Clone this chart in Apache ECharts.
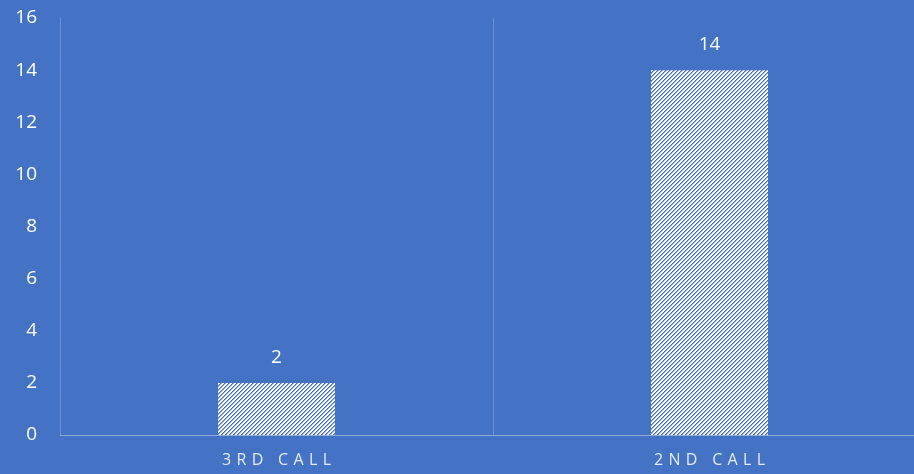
<!DOCTYPE html>
<html>
<head>
<meta charset="utf-8">
<script src="https://cdn.jsdelivr.net/npm/echarts@6/dist/echarts.min.js"></script>
<style>
  html, body { margin: 0; padding: 0; background: #4472C4; overflow: hidden; }
  /* plot area runs a little past the right edge of the window */
  #chart { width: 926px; height: 474px; }
</style>
</head>
<body>
<div id="chart"></div>
<script>
const categories = ['3RD CALL', '2ND CALL']
const values = [2, 14]
const yMax = 16
const yStep = 2

// hatch tile: white with blue "/" stripes
function hatch() {
  const c = document.createElement('canvas')
  c.width = 4
  c.height = 4
  const ctx = c.getContext('2d')
  ctx.fillStyle = '#ffffff'
  ctx.fillRect(0, 0, 4, 4)
  ctx.fillStyle = '#4472C4'
  for (let i = 0; i < 4; i++) {
    ctx.fillRect(3 - i, i, 1, 1)
  }
  ctx.fillStyle = 'rgba(68,114,196,0.6)'
  for (let i = 0; i < 4; i++) {
    ctx.fillRect((4 - i) % 4, i, 1, 1)
  }
  return c
}

const myChart = echarts.init(document.getElementById('chart'))

myChart.setOption({
  backgroundColor: '#4472C4',
  animation: false,
  grid: {
    left: 60,
    right: 0,
    top: 18,
    bottom: 39
  },
  xAxis: {
    type: 'category',
    data: categories,
    axisLine: { show: true, lineStyle: { color: '#8FAADC', width: 1 } },
    axisTick: { show: false },
    splitLine: { show: true, lineStyle: { color: '#6D90D2', width: 1 } },
    axisLabel: {
      color: '#E6ECF7',
      fontSize: 16,
      fontFamily: 'Open Sans',
      margin: 17,
      // letters in the source are spread out
      formatter: (v) => v.split('').join('\u2004')
    }
  },
  yAxis: {
    type: 'value',
    min: 0,
    max: yMax,
    interval: yStep,
    axisLine: { show: true, lineStyle: { color: '#6D90D2', width: 1 } },
    axisTick: { show: false },
    splitLine: { show: false },
    axisLabel: {
      color: '#ffffff',
      fontSize: 19,
      fontFamily: 'Open Sans',
      margin: 23
    }
  },
  series: [
    {
      type: 'bar',
      data: values,
      barWidth: 117,
      itemStyle: {
        color: { image: hatch(), repeat: 'repeat' }
      },
      label: {
        show: true,
        position: 'top',
        distance: 16,
        color: '#ffffff',
        fontSize: 19,
        fontFamily: 'Open Sans'
      }
    }
  ]
})
</script>
</body>
</html>
